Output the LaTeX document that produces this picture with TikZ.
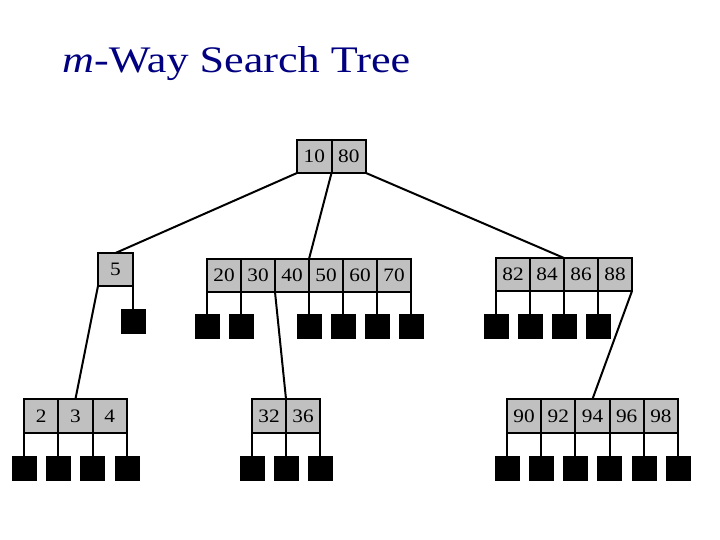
\documentclass[tikz,border=0pt]{standalone}
\usepackage{fontspec}
\setmainfont{Liberation Serif}
\usepackage{graphicx}
\definecolor{titleblue}{RGB}{0,0,128}
\definecolor{cellgray}{RGB}{192,192,192}
\newcommand{\celltext}[1]{\scalebox{1.12}[1]{#1}}
\tikzset{
  keycell/.style={draw=black, fill=cellgray, line width=2pt, minimum height=33pt,
    inner sep=0pt, outer sep=0pt, anchor=north west, font=\fontsize{19}{19}\selectfont},
  leaf/.style={fill=black, draw=black, line width=0.5pt, minimum size=24pt, inner sep=0pt, anchor=north},
  link/.style={line width=2pt},
}
\begin{document}
\begin{tikzpicture}[x=1pt,y=-1pt]
\useasboundingbox (0,0) rectangle (720,540);
\fill[white] (0,0) rectangle (720,540);
\node[anchor=base west, inner sep=0pt, text=titleblue] (title) at (62,73)
  {\resizebox{348pt}{26pt}{\fontsize{36}{36}\selectfont\textit{m}-Way Search Tree}};
% root
\foreach \lab [count=\i] in {10,80}
  \node[keycell, minimum width=34.5pt] (r\i) at ({297+34.5*(\i-1)},140) {\celltext{\lab}};
% node 5
\node[keycell, minimum width=35pt] (f1) at (98,253) {\celltext{5}};
% middle node
\foreach \lab [count=\i] in {20,30,40,50,60,70}
  \node[keycell, minimum width=34pt] (m\i) at ({207+34*(\i-1)},259) {\celltext{\lab}};
% right node
\foreach \lab [count=\i] in {82,84,86,88}
  \node[keycell, minimum width=34pt] (g\i) at ({496+34*(\i-1)},258) {\celltext{\lab}};
% level 3
\foreach \lab [count=\i] in {2,3,4}
  \node[keycell, minimum width=34.3pt, minimum height=34pt] (a\i) at ({24+34.3*(\i-1)},399) {\celltext{\lab}};
\foreach \lab [count=\i] in {32,36}
  \node[keycell, minimum width=34pt, minimum height=34pt] (b\i) at ({252+34*(\i-1)},399) {\celltext{\lab}};
\foreach \lab [count=\i] in {90,92,94,96,98}
  \node[keycell, minimum width=34.2pt, minimum height=34pt] (h\i) at ({507+34.2*(\i-1)},399) {\celltext{\lab}};
% connectors between key nodes
\draw[link] (r1.south west) -- (f1.north);
\draw[link] (r1.south east) -- (m3.north east);
\draw[link] (r2.south east) -- (g2.north east);
\draw[link] (f1.south west) -- (a2.north);
\draw[link] (m2.south east) -- (b1.north east);
\draw[link] (g4.south east) -- (h3.north);
% external (empty) subtrees
\node[leaf] (fl1) at (f1.south east |- 0,309) {};
\draw[link] (f1.south east) -- (fl1.north);
\foreach \c/\a [count=\k] in {m1/south west,m1/south east,m3/south east,m4/south east,m5/south east,m6/south east}{
  \node[leaf] (ml\k) at (\c.\a |- 0,314) {};
  \draw[link] (\c.\a) -- (ml\k.north);
}
\foreach \c/\a [count=\k] in {g1/south west,g1/south east,g2/south east,g3/south east}{
  \node[leaf] (gl\k) at (\c.\a |- 0,314) {};
  \draw[link] (\c.\a) -- (gl\k.north);
}
\foreach \c/\a [count=\k] in {a1/south west,a1/south east,a2/south east,a3/south east}{
  \node[leaf] (al\k) at (\c.\a |- 0,456) {};
  \draw[link] (\c.\a) -- (al\k.north);
}
\foreach \c/\a [count=\k] in {b1/south west,b1/south east,b2/south east}{
  \node[leaf] (bl\k) at (\c.\a |- 0,456) {};
  \draw[link] (\c.\a) -- (bl\k.north);
}
\foreach \c/\a [count=\k] in {h1/south west,h1/south east,h2/south east,h3/south east,h4/south east,h5/south east}{
  \node[leaf] (hl\k) at (\c.\a |- 0,456) {};
  \draw[link] (\c.\a) -- (hl\k.north);
}
\end{tikzpicture}
\end{document}
